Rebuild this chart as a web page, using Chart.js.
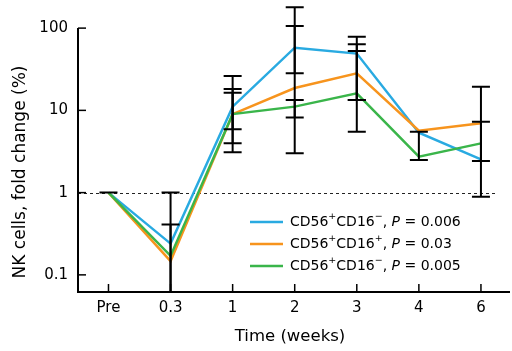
<!DOCTYPE html>
<html><head><meta charset="utf-8">
<script src="https://cdn.jsdelivr.net/npm/chart.js@4.4.1/dist/chart.umd.min.js"></script>
<style>html,body{margin:0;padding:0;background:#fff;} canvas{display:block}</style>
</head><body>
<canvas id="c" width="512" height="351"></canvas>
<script>
// ---------- data ----------
const categories = ['Pre', '0.3', '1', '2', '3', '4', '6'];
const yTickValues = [0.1, 1, 10, 100];
const yTickLabels = ['0.1', '1', '10', '100'];
const xTitle = 'Time (weeks)';
const yTitle = 'NK cells, fold change (%)';
const referenceLevel = 1;

const blueName = 'CD56⁺CD16⁻, P = 0.006';
const blueValues = [1, 0.24, 11.1, 57.8, 49, 5.35, 2.54];
const blueLower  = [1, 0.01, 5.89, 28.2, 5.5, null, 0.89];
const blueUpper  = [1, 1.0, 26.2, 106, 78.6, null, 19.4];

const orangeName = 'CD56⁺CD16⁺, P = 0.03';
const orangeValues = [1, 0.147, 9.0, 18.7, 28.2, 5.66, 6.96];
const orangeLower  = [null, null, 3.98, 3.0, 13.4, null, 2.42];
const orangeUpper  = [null, null, 18.2, 179, 63.6, null, 7.28];

const greenName = 'CD56⁺CD16⁻, P = 0.005';
const greenValues = [1, 0.17, 9.0, 11.1, 16.1, 2.73, 3.97];
const greenLower  = [null, 0.01, 3.09, 8.2, 13.4, 2.49, null];
const greenUpper  = [null, 0.41, 16.4, 13.4, 52.7, 5.5, null];

// legend text parts: [base, superscript, base, superscript, italic P, rest]
const blueLegend   = ['CD56', '+', 'CD16', '−', 'P', ' = 0.006'];
const orangeLegend = ['CD56', '+', 'CD16', '+', 'P', ' = 0.03'];
const greenLegend  = ['CD56', '+', 'CD16', '−', 'P', ' = 0.005'];

// ---------- styles ----------
const FONT = '"DejaVu Sans", "Liberation Sans", Arial, sans-serif';
const series = [
  {name: blueName, values: blueValues, lower: blueLower, upper: blueUpper, color: '#29AAE1', legend: blueLegend},
  {name: orangeName, values: orangeValues, lower: orangeLower, upper: orangeUpper, color: '#F7941D', legend: orangeLegend},
  {name: greenName, values: greenValues, lower: greenLower, upper: greenUpper, color: '#3AB54A', legend: greenLegend}
];

const decorPlugin = {
  id: 'decor',
  beforeDatasetsDraw(chart) {
    const {ctx, chartArea: a, scales: {y}} = chart;
    ctx.save();
    ctx.strokeStyle = '#222';
    ctx.lineWidth = 1;
    ctx.setLineDash([3, 3]);
    const py = Math.round(y.getPixelForValue(referenceLevel)) + 0.5;
    ctx.beginPath();
    ctx.moveTo(a.left, py);
    ctx.lineTo(a.right - 12, py);
    ctx.stroke();
    ctx.restore();
  },
  afterDatasetsDraw(chart) {
    const {ctx, chartArea: a, scales: {x, y}} = chart;
    // error bars
    ctx.save();
    ctx.beginPath();
    ctx.rect(a.left, 0, a.right - a.left, a.bottom);
    ctx.clip();
    ctx.strokeStyle = '#000';
    ctx.lineWidth = 2;
    const cap = 9;
    series.forEach(s => {
      s.lower.forEach((lo, i) => {
        const hi = s.upper[i];
        if (lo == null || hi == null) return;
        const px = x.getPixelForValue(i);
        const p1 = y.getPixelForValue(lo);
        const p2 = y.getPixelForValue(hi);
        ctx.beginPath();
        ctx.moveTo(px, p1); ctx.lineTo(px, p2);
        ctx.moveTo(px - cap, p1); ctx.lineTo(px + cap, p1);
        ctx.moveTo(px - cap, p2); ctx.lineTo(px + cap, p2);
        ctx.stroke();
      });
    });
    ctx.restore();

    // axes
    ctx.save();
    ctx.strokeStyle = '#000';
    ctx.lineWidth = 2;
    const topY = y.getPixelForValue(yTickValues[yTickValues.length - 1]);
    ctx.beginPath();
    ctx.moveTo(a.left, topY);
    ctx.lineTo(a.left, a.bottom);
    ctx.lineTo(a.right, a.bottom);
    ctx.stroke();
    ctx.lineWidth = 1.5;
    yTickValues.forEach(v => {
      const py = y.getPixelForValue(v);
      ctx.beginPath(); ctx.moveTo(a.left, py); ctx.lineTo(a.left + 8, py); ctx.stroke();
    });
    categories.forEach((c, i) => {
      const px = x.getPixelForValue(i);
      ctx.beginPath(); ctx.moveTo(px, a.bottom); ctx.lineTo(px, a.bottom - 8); ctx.stroke();
    });

    // axis titles
    ctx.fillStyle = '#000';
    ctx.textAlign = 'center';
    ctx.textBaseline = 'middle';
    ctx.font = '16.5px ' + FONT;
    ctx.fillText(xTitle, 290, 337);
    ctx.save();
    ctx.translate(21, 172);
    ctx.rotate(-Math.PI / 2);
    ctx.font = '17px ' + FONT;
    ctx.fillText(yTitle, 0, 0);
    ctx.restore();

    // legend
    const rows = [222, 244, 266];
    series.forEach((s, k) => {
      const ry = rows[k];
      ctx.strokeStyle = s.color;
      ctx.lineWidth = 2.5;
      ctx.beginPath(); ctx.moveTo(250, ry); ctx.lineTo(283, ry); ctx.stroke();
      ctx.textAlign = 'left';
      ctx.textBaseline = 'middle';
      ctx.fillStyle = '#000';
      let tx = 290;
      const base = '14px ' + FONT, sup = '9.5px ' + FONT, ital = 'italic 14px ' + FONT;
      const parts = [
        [s.legend[0], base, 0], [s.legend[1], sup, -5], [s.legend[2], base, 0], [s.legend[3], sup, -5],
        [', ', base, 0], [s.legend[4], ital, 0], [s.legend[5], base, 0]
      ];
      parts.forEach(([t, f, dy]) => {
        ctx.font = f;
        ctx.fillText(t, tx, ry + dy);
        tx += ctx.measureText(t).width;
      });
    });
    ctx.restore();
  }
};

new Chart(document.getElementById('c'), {
  type: 'line',
  data: {
    datasets: series.map(s => ({
      label: s.name,
      data: categories.map((c, i) => ({x: i, y: s.values[i]})),
      borderColor: s.color,
      backgroundColor: s.color,
      borderWidth: 2.5,
      pointRadius: 0,
      tension: 0,
      fill: false
    })).reverse()
  },
  options: {
    responsive: false,
    devicePixelRatio: 1,
    animation: false,
    layout: {padding: {left: 0, top: 5, right: 2, bottom: 0}},
    plugins: {legend: {display: false}, tooltip: {enabled: false}},
    scales: {
      x: {
        type: 'linear',
        min: -0.491, max: 6.468,
        afterBuildTicks: s => { s.ticks = categories.map((c, i) => ({value: i})); },
        afterFit: s => { s.height = 59; s.paddingLeft = 0; s.paddingRight = 0; s.paddingTop = 0; s.paddingBottom = 0; },
        grid: {display: false, drawTicks: false},
        border: {display: false},
        ticks: {
          callback: v => categories[v],
          font: {family: FONT, size: 15},
          color: '#000',
          padding: 7,
          autoSkip: false,
          maxRotation: 0
        }
      },
      y: {
        type: 'logarithmic',
        min: 0.0619, max: 191,
        afterBuildTicks: s => { s.ticks = yTickValues.map(v => ({value: v})); },
        afterFit: s => { s.width = 78; s.paddingTop = 0; s.paddingBottom = 0; s.paddingLeft = 0; s.paddingRight = 0; },
        grid: {display: false, drawTicks: false},
        border: {display: false},
        ticks: {
          callback: v => yTickLabels[yTickValues.indexOf(v)],
          font: {family: FONT, size: 15},
          color: '#000',
          padding: 10,
          autoSkip: false
        }
      }
    }
  },
  plugins: [decorPlugin]
});
</script>
</body></html>
